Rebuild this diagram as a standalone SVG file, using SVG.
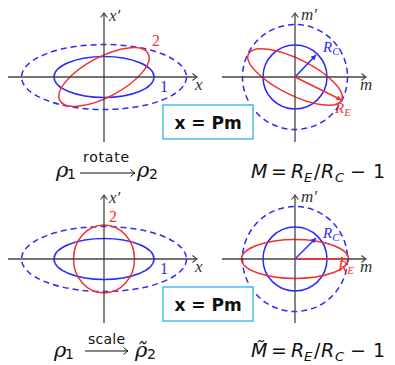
<svg xmlns="http://www.w3.org/2000/svg" width="395" height="365" viewBox="0 0 395 365">
<style>
.ax{stroke:#444;stroke-width:1.3;fill:none}
.b{stroke:#2b2bf5;stroke-width:1.5;fill:none}
.bd{stroke:#2b2bf5;stroke-width:1.5;fill:none;stroke-dasharray:6 4}
.r{stroke:#f23030;stroke-width:1.5;fill:none}
.lab{font-family:"Liberation Serif","DejaVu Serif",serif;font-style:italic;font-size:17px;fill:#333}
.num{font-family:"Liberation Serif","DejaVu Serif",serif;font-size:16px}
.rl{font-family:"Liberation Serif","DejaVu Serif",serif;font-style:italic;font-size:15px}
.sub{font-size:11px}
.box{fill:#fff;stroke:#55bff0;stroke-width:1.6}
.bt{font-family:"DejaVu Sans","Liberation Sans",sans-serif;font-weight:bold;font-size:17px;fill:#111}
.rho{font-family:"DejaVu Serif","Liberation Serif",serif;font-style:italic;font-size:21px;fill:#111}
.sn{font-family:"DejaVu Sans","Liberation Sans",sans-serif;font-size:14px;fill:#111}
.mi{font-family:"DejaVu Sans","Liberation Sans",sans-serif;font-style:oblique;font-size:19px;fill:#111}
.mu{font-family:"DejaVu Sans","Liberation Sans",sans-serif;font-size:19px;fill:#111}
.ms{font-family:"DejaVu Sans","Liberation Sans",sans-serif;font-style:oblique;font-size:13px;fill:#111}
.arr{stroke:#111;stroke-width:1.1;fill:none}
</style>
<defs>
<marker id="ah" markerWidth="10" markerHeight="10" refX="0" refY="0" viewBox="-6 -5 8 10" orient="auto" markerUnits="userSpaceOnUse">
<path d="M-4.5,-3.5 Q-1.5,-0.8 0,0 Q-1.5,0.8 -4.5,3.5" stroke="#444" stroke-width="1.1" fill="none"/>
</marker>
<marker id="ak" markerWidth="10" markerHeight="10" refX="0" refY="0" viewBox="-6 -5 8 10" orient="auto" markerUnits="userSpaceOnUse">
<path d="M-4.5,-3.5 Q-1.5,-0.8 0,0 Q-1.5,0.8 -4.5,3.5" stroke="#111" stroke-width="1" fill="none"/>
</marker>
<marker id="bh" markerWidth="8" markerHeight="8" refX="0" refY="0" viewBox="-6 -4 7 8" orient="auto" markerUnits="userSpaceOnUse">
<path d="M-5,-2.6 L0,0 L-5,2.6 Z" fill="#2b2bf5"/>
</marker>
<marker id="rh" markerWidth="8" markerHeight="8" refX="0" refY="0" viewBox="-6 -4 7 8" orient="auto" markerUnits="userSpaceOnUse">
<path d="M-5,-2.6 L0,0 L-5,2.6 Z" fill="#f23030"/>
</marker>
</defs>

<g id="panel-top-left">
<ellipse class="bd" cx="104" cy="77" rx="82.5" ry="32.5"/>
<ellipse class="b" cx="104" cy="77" rx="50" ry="20.5"/>
<ellipse class="r" cx="104" cy="77" rx="50" ry="20" transform="rotate(-28 104 77)"/>
<line class="ax" x1="8" y1="77" x2="197" y2="77" marker-end="url(#ah)"/>
<line class="ax" x1="104" y1="142" x2="104" y2="13" marker-end="url(#ah)"/>
<text class="lab" x="109" y="21">x′</text>
<text class="lab" x="195" y="90">x</text>
<text class="num" x="152" y="46" fill="#f23030">2</text>
<text class="num" x="160" y="92" fill="#2b2bf5">1</text>
</g>

<g id="panel-top-right">
<circle class="bd" cx="295" cy="77" r="52.5"/>
<circle class="b" cx="295" cy="77" r="32"/>
<ellipse class="r" cx="295" cy="77" rx="52" ry="18" transform="rotate(26.5 295 77)"/>
<line class="ax" x1="222" y1="77" x2="366" y2="77" marker-end="url(#ah)"/>
<line class="ax" x1="295" y1="142" x2="295" y2="13" marker-end="url(#ah)"/>
<line class="b" x1="295" y1="77" x2="316" y2="55" stroke-width="1.1" marker-end="url(#bh)"/>
<line class="r" x1="295" y1="77" x2="341.5" y2="100" stroke-width="1.2" marker-end="url(#rh)"/>
<text class="lab" x="301" y="20">m′</text>
<text class="lab" x="360" y="90">m</text>
<text class="rl" x="323" y="52" fill="#2b2bf5">R<tspan class="sub" dy="3">C</tspan></text>
<text class="rl" x="335" y="113" fill="#f23030">R<tspan class="sub" dy="3">E</tspan></text>
</g>

<g id="box-top">
<rect class="box" x="163" y="105" width="90" height="34"/>
<text class="bt" x="208" y="129" text-anchor="middle">x = Pm</text>
</g>

<g id="label-rotate">
<text class="rho" x="56" y="177">ρ</text>
<text class="sn" x="67" y="179">1</text>
<text class="sn" x="83" y="162" textLength="46">rotate</text>
<line class="arr" x1="80" y1="173" x2="135" y2="173" marker-end="url(#ak)"/>
<text class="rho" x="137" y="177">ρ</text>
<text class="sn" x="149" y="179">2</text>
</g>

<g id="label-M">
<text class="mi" x="251" y="178">M</text>
<text class="mu" x="271" y="178">=</text>
<text class="mi" x="291" y="178">R</text>
<text class="ms" x="304" y="182">E</text>
<text class="mu" x="314" y="178">/</text>
<text class="mi" x="321" y="178">R</text>
<text class="ms" x="335" y="182">C</text>
<text class="mu" x="350" y="178">−</text>
<text class="mu" x="373" y="178">1</text>
</g>

<g id="panel-bottom-left">
<ellipse class="bd" cx="104" cy="259" rx="82.5" ry="32.5"/>
<ellipse class="b" cx="104" cy="259" rx="50" ry="20.5"/>
<ellipse class="r" cx="104" cy="259" rx="30.5" ry="34"/>
<line class="ax" x1="8" y1="259" x2="197" y2="259" marker-end="url(#ah)"/>
<line class="ax" x1="104" y1="323" x2="104" y2="195" marker-end="url(#ah)"/>
<text class="lab" x="109" y="203">x′</text>
<text class="lab" x="195" y="272">x</text>
<text class="num" x="109" y="222" fill="#f23030">2</text>
<text class="num" x="160" y="274" fill="#2b2bf5">1</text>
</g>

<g id="panel-bottom-right">
<circle class="bd" cx="295" cy="259" r="52.5"/>
<circle class="b" cx="295" cy="259" r="32"/>
<ellipse class="r" cx="295" cy="259" rx="53.5" ry="19.5"/>
<line class="ax" x1="222" y1="259" x2="366" y2="259" marker-end="url(#ah)"/>
<line class="ax" x1="295" y1="323" x2="295" y2="195" marker-end="url(#ah)"/>
<line class="b" x1="295" y1="259" x2="316" y2="238" stroke-width="1.1" marker-end="url(#bh)"/>
<line class="r" x1="295" y1="259" x2="346" y2="259" stroke-width="1.6" marker-end="url(#rh)"/>
<text class="lab" x="301" y="202">m′</text>
<text class="lab" x="360" y="272">m</text>
<text class="rl" x="323" y="238" fill="#2b2bf5">R<tspan class="sub" dy="3">C</tspan></text>
<text class="rl" x="338" y="271" fill="#f23030">R<tspan class="sub" dy="3">E</tspan></text>
</g>

<g id="box-bottom">
<rect class="box" x="163" y="287" width="90" height="34"/>
<text class="bt" x="208" y="311" text-anchor="middle">x = Pm</text>
</g>

<g id="label-scale">
<text class="rho" x="54" y="357">ρ</text>
<text class="sn" x="65" y="359">1</text>
<text class="sn" x="88" y="344" textLength="37">scale</text>
<line class="arr" x1="85" y1="351" x2="128" y2="351" marker-end="url(#ak)"/>
<text class="rho" x="135" y="357">ρ̃</text>
<text class="sn" x="147" y="359">2</text>
</g>

<g id="label-Mtilde">
<text class="mi" x="251" y="357">M̃</text>
<text class="mu" x="271" y="357">=</text>
<text class="mi" x="291" y="357">R</text>
<text class="ms" x="304" y="361">E</text>
<text class="mu" x="314" y="357">/</text>
<text class="mi" x="321" y="357">R</text>
<text class="ms" x="335" y="361">C</text>
<text class="mu" x="350" y="357">−</text>
<text class="mu" x="373" y="357">1</text>
</g>
</svg>
